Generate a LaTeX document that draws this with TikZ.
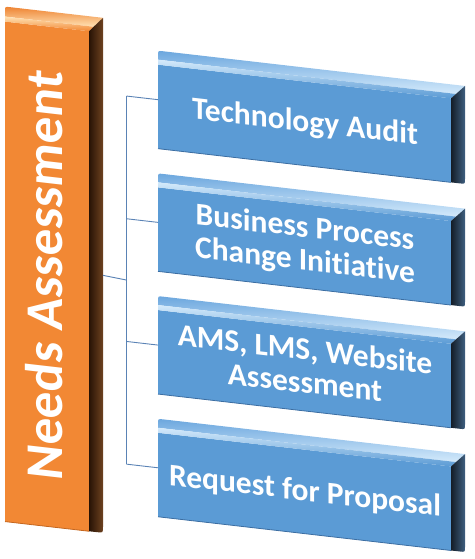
\documentclass[tikz,border=0pt]{standalone}
\usepackage{fontspec}
\setmainfont{Carlito}[Ligatures=CommonOff]
\definecolor{bface}{HTML}{5B9BD5}
\definecolor{bbevtop}{HTML}{6CA7DE}
\definecolor{bhigh}{HTML}{D4EAFB}
\definecolor{bsideL}{HTML}{141D27}
\definecolor{bsideR}{HTML}{3E5F80}
\definecolor{bedge}{HTML}{3C6EA2}
\definecolor{oface}{HTML}{F28834}
\definecolor{obevtop}{HTML}{EE8332}
\definecolor{ohigh}{HTML}{FFE2B4}
\definecolor{osideL}{HTML}{281305}
\definecolor{osideR}{HTML}{6E4220}
\definecolor{oedge}{HTML}{C4661F}
\definecolor{connc}{HTML}{5A83B5}
\tikzset{
  conn/.style={draw=connc, line width=0.9pt},
  labeltext/.style={text=white, font=\fontsize{31.5}{33}\selectfont\bfseries, inner sep=0pt, anchor=base},
  titletext/.style={text=white, font=\fontsize{53}{60}\selectfont\bfseries, inner sep=0pt, anchor=base, rotate=90},
  hook/.style={inner sep=0pt, outer sep=0pt, anchor=north west},
}
% #1 node name, #2 top (unslanted)
\newcommand\naBox[2]{%
  \fill[bface] (158,#2+14) rectangle (451,#2+98);
  \draw[bedge, line width=0.8pt] (158,#2+98) -- (451,#2+98);
  \shade[top color=bbevtop, bottom color=bhigh]
    (158,#2+9) -- (158,#2+5) .. controls (158,#2) .. (163,#2) -- (465,#2) -- (456,#2+9) -- cycle;
  \shade[top color=bhigh, bottom color=bface]
    (158,#2+9) -- (456,#2+9) -- (451,#2+14) -- (158,#2+14) -- cycle;
  \shade[left color=bsideL, right color=bsideR]
    (451,#2+14) -- (465,#2) -- (465,#2+93) .. controls (465,#2+98) .. (460,#2+98) -- (451,#2+98) -- cycle;
  \node[hook, minimum width=307pt, minimum height=98pt] (#1) at (158,#2) {};
}
\begin{document}
\begin{tikzpicture}[x=1pt,y=-1pt]
\useasboundingbox (0,0) rectangle (474,559);
\begin{scope}[yslant=-0.115, transform shape]
  % bar
  \fill[oface] (5,21) rectangle (89,521);
  \draw[oedge, line width=0.8pt] (5,521) -- (89,521);
  \shade[top color=obevtop, bottom color=ohigh]
    (5,16) -- (5,11) .. controls (5,6) .. (10,6) -- (103,6) -- (93.7,16) -- cycle;
  \shade[top color=ohigh, bottom color=oface]
    (5,16) -- (93.7,16) -- (89,21) -- (5,21) -- cycle;
  \shade[left color=osideL, right color=osideR]
    (89,21) -- (103,6) -- (103,515) .. controls (103,521) .. (97,521) -- (89,521) -- cycle;
  \node[hook, minimum width=98pt, minimum height=515pt] (bar) at (5,6) {};
  \node[titletext] (title) at (62,269.8) {Needs Assessment};

  % boxes
  \naBox{b1}{32.5}
  \naBox{b2}{155.2}
  \naBox{b3}{277.9}
  \naBox{b4}{400.6}

  % connectors
  \coordinate (s1) at (126.5,81.5);
  \coordinate (s2) at (126.5,204.2);
  \coordinate (s3) at (126.5,326.9);
  \coordinate (s4) at (126.5,449.6);
  \coordinate (sb) at (126.5,265.5);
  \draw[conn] (s1) -- (s4);
  \draw[conn] (bar.east) -- (sb);
  \draw[conn] (s1) -- (b1.west);
  \draw[conn] (s2) -- (b2.west);
  \draw[conn] (s3) -- (b3.west);
  \draw[conn] (s4) -- (b4.west);

  % labels
  \node[labeltext] (t1) at (305,96.5) {Technology Audit};
  \node[labeltext] (t2) at (305,202.2) {\begin{tabular}[t]{@{}c@{}}Business Process\\Change Initiative\end{tabular}};
  \node[labeltext] (t3) at (305,324.9) {\begin{tabular}[t]{@{}c@{}}AMS, LMS, Website\\Assessment\end{tabular}};
  \node[labeltext] (t4) at (305,465.6) {Request for Proposal};
\end{scope}
\end{tikzpicture}
\end{document}
